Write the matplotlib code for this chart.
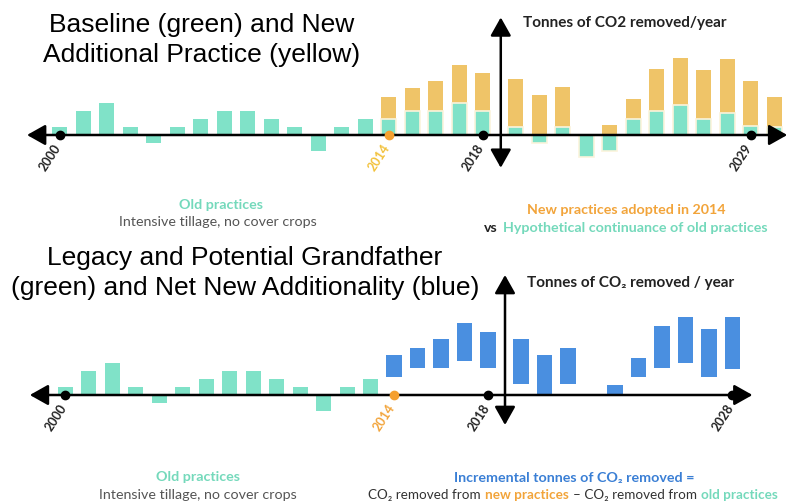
import matplotlib.pyplot as plt
from matplotlib.offsetbox import TextArea, HPacker, AnnotationBbox

# old practices, 2000-2013 (same in both panels)
old_years = list(range(2000, 2014))
old_vals = [1, 3, 4, 1, -1, 1, 2, 3, 3, 2, 1, -2, 1, 2]

# 2014-2030: new practices vs hypothetical continuance of old ones
new_years = list(range(2014, 2031))
new_vals = [4.8, 5.9, 6.8, 8.8, 7.8, 7, 5, 6, -1, 1.25, 4.5, 8.3, 9.6, 8.1, 9.5, 6.7, 4.8]
cont_vals = [2, 3, 3, 4, 3, 1, -1, 1, -2.7, -2, 2, 3, 3.7, 2, 2.8, 1.1, 1]

# incremental tonnes (floating bars, bottom panel)
inc_years = [2014, 2015, 2016, 2017, 2018, 2019, 2020, 2021, 2023, 2024, 2025, 2026, 2027, 2028]
inc_low = [2.3, 3.4, 3.4, 4.3, 3.4, 1.4, 0, 1.4, 0, 2.3, 3.4, 4, 2.3, 3.2]
inc_high = [5, 5.9, 7, 9, 7.9, 7, 5, 5.9, 1.3, 4.6, 8.6, 9.8, 8.2, 9.8]

top_ticks = [2000, 2014, 2018, 2029]
bot_ticks = [2000, 2014, 2018, 2028]

GREEN = '#80e2c8'
GOLD = '#efc468'
BLUE = '#4a8fe0'
TEAL_TXT = '#74d9bb'
ORANGE_TXT = '#f2a43a'
GRAY_TXT = '#555555'

FONT = ['Lato', 'DejaVu Sans']
TITLE_FONT = 'Liberation Sans'
TXT = 10.3


def xpos(y):
    # small gap after 2018 where the vertical axis sits
    return y + 0.4 if y > 2018 else y


def draw_axes(ax, left, right, vx, vtop, vbot):
    style = '<|-|>,head_length=0.8,head_width=0.45'
    ax.annotate('', xy=(left, 0), xytext=(right, 0),
                arrowprops=dict(arrowstyle=style, mutation_scale=14, lw=1.8, color='black',
                                shrinkA=0, shrinkB=0), zorder=5)
    ax.annotate('', xy=(vx, vtop), xytext=(vx, vbot),
                arrowprops=dict(arrowstyle=style, mutation_scale=14, lw=1.8, color='black',
                                shrinkA=0, shrinkB=0), zorder=5)


def draw_ticks(ax, ticks, orange_lbl):
    for t in ticks:
        x = xpos(t)
        if t == 2014:
            ax.plot(x, 0, 'o', ms=6, color='#f5a030', zorder=6)
            col = orange_lbl
        else:
            ax.plot(x, 0, 'o', ms=6, color='black', zorder=6)
            col = '#222222'
        ax.text(x + 0.15, -0.9, str(t), rotation=57, ha='right', va='top',
                fontsize=9, fontweight='bold', color=col, family=FONT)


fig = plt.figure(figsize=(7.87, 5.04), dpi=100)
ax1 = fig.add_axes([0, 0.5, 1, 0.5])
ax2 = fig.add_axes([0, 0, 1, 0.5])

# ---- top panel ----
ax1.bar(old_years, old_vals, width=0.64, color=GREEN, zorder=2)
ax1.bar([xpos(y) for y in new_years], new_vals, width=0.64, color=GOLD, zorder=2)
ax1.bar([xpos(y) for y in new_years], cont_vals, width=0.64, color=GREEN,
        edgecolor='#fbf3dc', linewidth=1.2, zorder=3)
draw_axes(ax1, 1998.6, 2030.95, 2018.76, 14.7, -4.1)
draw_ticks(ax1, top_ticks, '#f2c13a')
ax1.text(2019.7, 14, 'Tonnes of CO2 removed/year', fontsize=11, fontweight='bold',
         color='#222222', va='center', ha='left', family=FONT)
ax1.set_xlim(1997.45, 2030.94)
ax1.set_ylim(-14.625, 16.875)
ax1.axis('off')

# ---- bottom panel ----
ax2.bar(old_years, old_vals, width=0.64, color=GREEN, zorder=2)
ax2.bar([xpos(y) for y in inc_years], [h - l for l, h in zip(inc_low, inc_high)],
        bottom=inc_low, width=0.66, color=BLUE, zorder=2)
draw_axes(ax2, 1998.5, 2029.25, 2018.72, 15, -3.75)
draw_ticks(ax2, bot_ticks, ORANGE_TXT)
ax2.text(2019.66, 14, 'Tonnes of CO\u2082 removed / year', fontsize=11, fontweight='bold',
         color='#222222', va='center', ha='left', family=FONT)
ax2.set_xlim(1997.23, 2030.72)
ax2.set_ylim(-13.625, 17.875)
ax2.axis('off')


def ftext(x, y, s, **kw):
    fig.text(x / 787, 1 - y / 504, s, ha='center', va='center', family=FONT, **kw)


def multitext(x, y, parts, size=TXT, sep=3.5):
    kids = [TextArea(s, textprops=dict(color=c, fontweight=w, fontsize=size, family=FONT))
            for s, c, w in parts]
    box = HPacker(children=kids, align='baseline', pad=0, sep=sep)
    ab = AnnotationBbox(box, (x / 787, 1 - y / 504), xycoords='figure fraction',
                        frameon=False, box_alignment=(0.5, 0.5), pad=0)
    fig.add_artist(ab)


# titles
fig.text(202 / 787, 1 - 40 / 504, 'Baseline (green) and New\nAdditional Practice (yellow)',
         ha='center', va='center', fontsize=19, family=TITLE_FONT, linespacing=1.3)
fig.text(245 / 787, 1 - 273 / 504, 'Legacy and Potential Grandfather\n(green) and Net New Additionality (blue)',
         ha='center', va='center', fontsize=19, family=TITLE_FONT, linespacing=1.3)

# captions top
ftext(221, 205, 'Old practices', fontsize=TXT, fontweight='bold', color=TEAL_TXT)
ftext(218, 222, 'Intensive tillage, no cover crops', fontsize=TXT, color=GRAY_TXT)
ftext(626, 210, 'New practices adopted in 2014', fontsize=TXT, fontweight='bold', color=ORANGE_TXT)
multitext(626, 228, [('vs', '#222222', 'bold'),
                     ('Hypothetical continuance of old practices', TEAL_TXT, 'bold')])

# captions bottom
ftext(198, 477, 'Old practices', fontsize=TXT, fontweight='bold', color=TEAL_TXT)
ftext(198, 495, 'Intensive tillage, no cover crops', fontsize=TXT, color=GRAY_TXT)
ftext(574, 478, 'Incremental tonnes of CO\u2082 removed =', fontsize=TXT, fontweight='bold', color='#3a7fd5')
multitext(573, 495, [('CO\u2082 removed from', '#333333', 'normal'),
                     ('new practices', ORANGE_TXT, 'bold'),
                     ('\u2013 CO\u2082 removed from', '#333333', 'normal'),
                     ('old practices', TEAL_TXT, 'bold')], size=9.7, sep=3)

fig.savefig('out.png', dpi=100)
